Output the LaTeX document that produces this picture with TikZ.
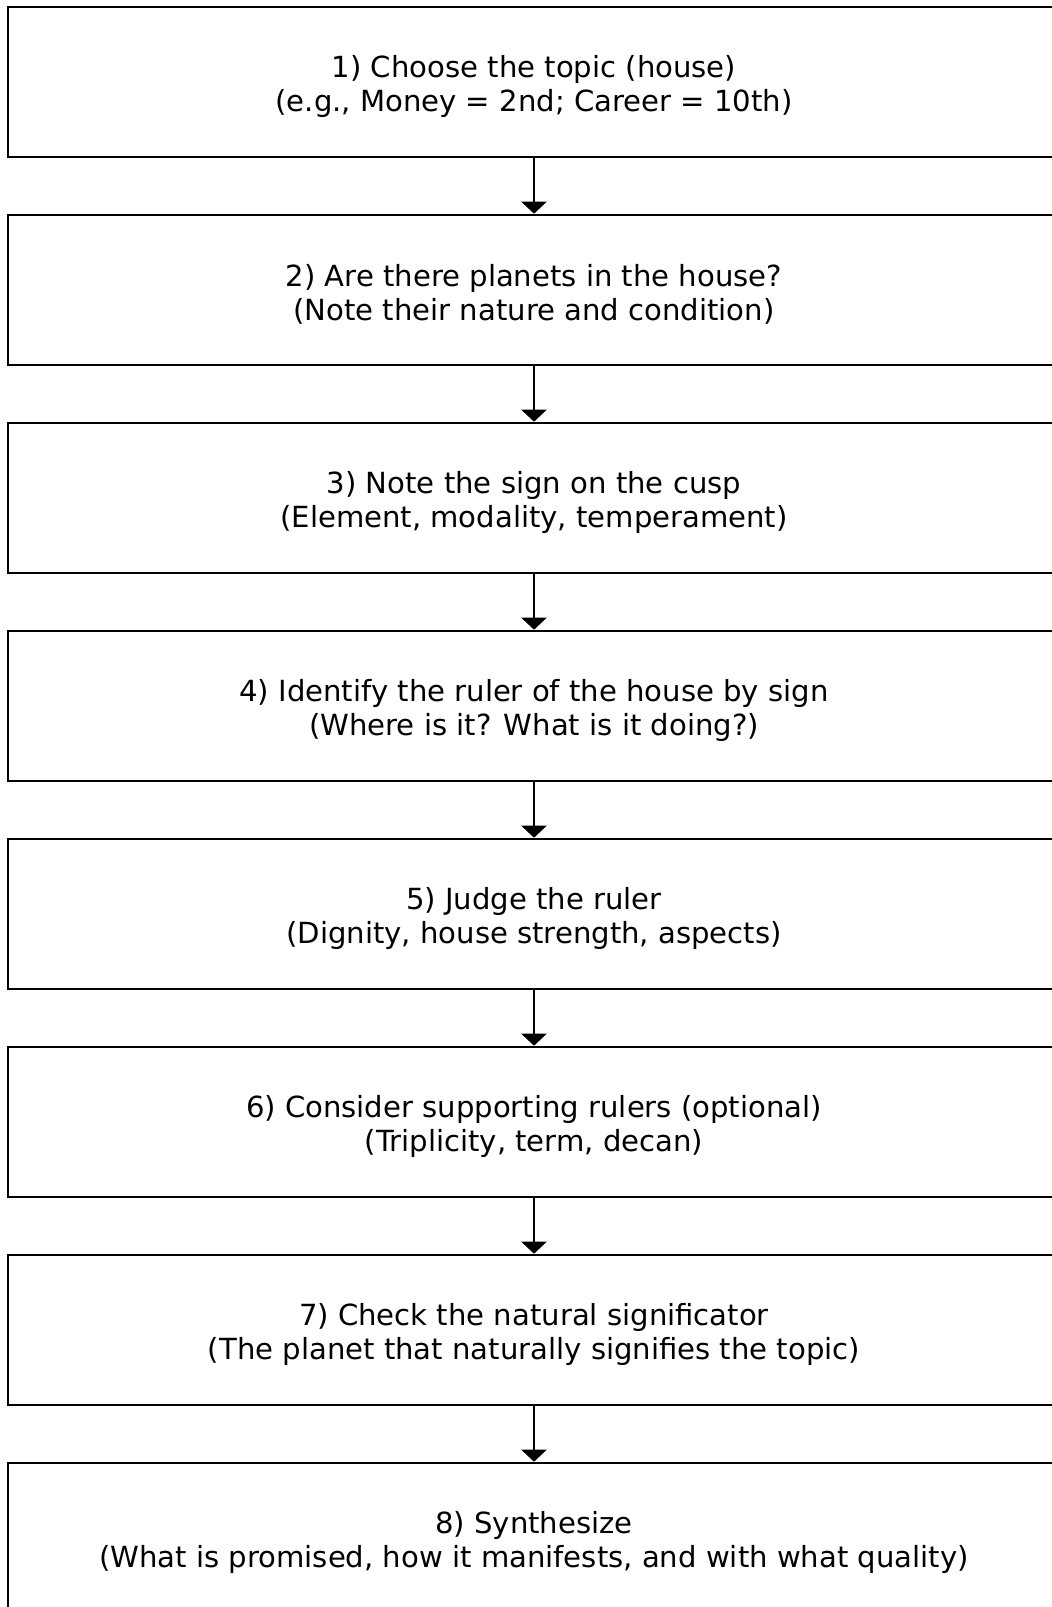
\documentclass[tikz,border=0pt]{standalone}
\usepackage{fontspec}
\setmainfont{DejaVu Sans}
\usetikzlibrary{arrows.meta}
\begin{document}
\begin{tikzpicture}[x=1pt,y=-1pt,
  stepbox/.style={draw=black,line width=2.6pt,fill=white,minimum width=1052pt,minimum height=150pt,
    align=center,inner sep=0pt,font=\fontsize{29pt}{34pt}\selectfont},
  flow/.style={line width=2.4pt,-{Triangle[length=12pt,width=25pt]}}]
\useasboundingbox (0,0) rectangle (1052,1607);
\node[stepbox] (s1) at (534,82) {};
\node[stepbox] (s2) at (534,290) {};
\node[stepbox] (s3) at (534,498) {};
\node[stepbox] (s4) at (534,706) {};
\node[stepbox] (s5) at (534,914) {};
\node[stepbox] (s6) at (534,1122) {};
\node[stepbox] (s7) at (534,1330) {};
\node[stepbox] (s8) at (534,1538) {};
\tikzset{lbl/.style={align=center,inner sep=0pt,font=\fontsize{29.1pt}{34pt}\selectfont}}
\node[lbl] (t1) at ([yshift=-4.5pt]s1.center) {1) Choose the topic (house)\\(e.g., Money = 2nd; Career = 10th)};
\node[lbl] (t2) at ([yshift=-4.5pt]s2.center) {2) Are there planets in the house?\\(Note their nature and condition)};
\node[lbl] (t3) at ([yshift=-4.5pt]s3.center) {3) Note the sign on the cusp\\(Element, modality, temperament)};
\node[lbl] (t4) at ([yshift=-4.5pt]s4.center) {4) Identify the ruler of the house by sign\\(Where is it? What is it doing?)};
\node[lbl] (t5) at ([yshift=-4.5pt]s5.center) {5) Judge the ruler\\(Dignity, house strength, aspects)};
\node[lbl] (t6) at ([yshift=-4.5pt]s6.center) {6) Consider supporting rulers (optional)\\(Triplicity, term, decan)};
\node[lbl] (t7) at ([yshift=-4.5pt]s7.center) {7) Check the natural significator\\(The planet that naturally signifies the topic)};
\node[lbl] (t8) at ([yshift=-4.5pt]s8.center) {8) Synthesize\\(What is promised, how it manifests, and with what quality)};
\draw[flow] (s1) -- (s2);
\draw[flow] (s2) -- (s3);
\draw[flow] (s3) -- (s4);
\draw[flow] (s4) -- (s5);
\draw[flow] (s5) -- (s6);
\draw[flow] (s6) -- (s7);
\draw[flow] (s7) -- (s8);
\end{tikzpicture}
\end{document}
